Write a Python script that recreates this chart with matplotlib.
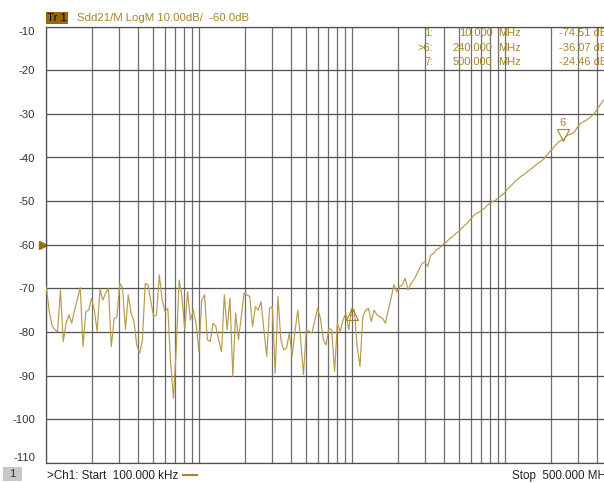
import numpy as np
import matplotlib
matplotlib.use("Agg")
import matplotlib.pyplot as plt
from matplotlib.patches import Rectangle
from matplotlib.lines import Line2D
from matplotlib.ticker import LogLocator, NullFormatter
from matplotlib.transforms import offset_copy

plt.rcParams['font.family'] = ['Liberation Sans', 'DejaVu Sans']

# trace (dB), 201-point log sweep 100 kHz .. 500 MHz
level_db = [
    -69.8, -75.0, -78.5, -79.5, -79.9, -70.4, -82.2, -78.0, -76.1, -78.0,
    -75.0, -72.5, -69.8, -83.4, -75.3, -75.0, -72.3, -75.0, -79.9, -70.2,
    -72.7, -71.1, -70.0, -83.4, -77.0, -76.5, -68.9, -70.0, -79.5, -71.5,
    -75.7, -77.5, -83.0, -84.9, -82.0, -68.9, -69.2, -73.0, -76.5, -76.1,
    -66.9, -72.7, -75.3, -74.6, -87.2, -95.2, -83.7, -68.1, -71.9, -79.5,
    -70.8, -77.3, -75.0, -78.0, -84.5, -72.7, -71.5, -81.8, -82.2, -78.0,
    -78.8, -81.8, -84.5, -71.5, -79.5, -72.3, -90.2, -75.7, -81.8, -76.5,
    -71.1, -71.5, -71.9, -78.8, -74.2, -75.0, -73.1, -79.5, -85.6, -74.6,
    -74.2, -89.5, -71.9, -81.8, -84.1, -83.7, -80.3, -85.6, -79.9, -75.0,
    -81.8, -89.8, -79.5, -79.9, -80.3, -77.3, -74.6, -76.9, -81.8, -83.0,
    -79.2, -79.5, -89.1, -78.0, -79.9, -77.3, -75.7, -79.5, -74.6, -75.0,
    -83.4, -87.9, -76.5, -75.0, -74.6, -77.6, -75.0, -76.1, -76.5, -76.9,
    -78.0, -75.0, -72.3, -69.2, -70.8, -69.6, -69.2, -67.7, -70.4, -68.9,
    -68.1, -66.9, -65.5, -64.3, -63.9, -65.0, -62.4, -62.0, -61.2, -60.8,
    -60.2, -59.7, -59.1, -58.5, -58.0, -57.4, -56.9, -56.2, -55.6, -55.0,
    -54.3, -53.5, -52.9, -52.6, -52.1, -51.7, -51.0, -50.5, -50.1, -49.8,
    -49.2, -48.7, -48.2, -47.4, -46.7, -46.1, -45.4, -44.9, -44.3, -43.9,
    -43.4, -42.9, -42.4, -41.8, -41.3, -40.9, -40.4, -39.6, -38.8, -38.1,
    -37.3, -36.6, -36.1, -35.9, -35.1, -34.7, -34.5, -34.1, -33.0, -32.2,
    -31.8, -31.5, -31.0, -30.5, -29.8, -28.9, -27.9, -27.0, -26.2, -25.3,
    -24.5,
]
start_mhz = 0.1
stop_mhz = 500.0
freq_mhz = np.geomspace(start_mhz, stop_mhz, len(level_db))

marker_ids = [1, 6, 7]
marker_freq = [10.0, 240.0, 500.0]
marker_db = [-74.51, -36.07, -24.46]

y_ticks = list(range(-10, -111, -10))
ref_level = -60.0

W, H = 604, 483
gold = '#a8842a'
trace_col = '#b89a4c'
grid_col = '#6e6e6e'


def fx(x):
    return x / W


def fy(y):
    return 1 - y / H


fig = plt.figure(figsize=(W / 100, H / 100), dpi=100)
fig.patch.set_facecolor('white')
# plot area: left edge at 46 px, right edge (500 MHz) falls just past the crop
ax = fig.add_axes([fx(46.3), fy(462.7), fx(611.5) - fx(46.3), fy(26.7) - fy(462.7)])
ax.set_xscale('log')
ax.set_xlim(start_mhz, stop_mhz)
ax.set_ylim(-110, -10)

ax.xaxis.set_major_locator(LogLocator(base=10, numticks=10))
ax.xaxis.set_minor_locator(LogLocator(base=10, subs=np.arange(2, 10), numticks=50))
ax.xaxis.set_major_formatter(NullFormatter())
ax.xaxis.set_minor_formatter(NullFormatter())
ax.set_yticks(y_ticks)
ax.set_yticklabels([str(v) for v in y_ticks])
ax.tick_params(axis='both', which='both', length=0)
ax.tick_params(axis='y', pad=8, labelsize=8.2, labelcolor='#333333')
for lab in ax.get_yticklabels():
    if lab.get_text() == '-10':
        lab.set_va('top')
    elif lab.get_text() == '-110':
        lab.set_va('bottom')

ax.grid(True, which='major', axis='y', color='#505050', lw=0.9)
ax.grid(True, which='both', axis='x', color=grid_col, lw=0.9)
for s in ax.spines.values():
    s.set_color('#505050')
    s.set_linewidth(0.9)

ax.plot(freq_mhz, level_db, color=trace_col, lw=0.85, zorder=3)

# marker 6 (active): hollow triangle above the trace with its number
tr_up = offset_copy(ax.transData, fig=fig, x=0, y=4.2, units='points')
ax.plot(marker_freq[1], marker_db[1], marker='v', ms=8.5, mfc='none', mec=gold,
        mew=0.8, transform=tr_up, clip_on=False, zorder=4)
tr_lbl = offset_copy(ax.transData, fig=fig, x=0, y=12.5, units='points')
ax.text(marker_freq[1], marker_db[1], str(marker_ids[1]), color=gold, fontsize=8,
        ha='center', va='center', transform=tr_lbl)

# marker 1: small triangle under the trace
tr_dn = offset_copy(ax.transData, fig=fig, x=0, y=-4.2, units='points')
ax.plot(marker_freq[0], marker_db[0], marker='^', ms=8.5, mfc='none', mec=gold,
        mew=0.8, transform=tr_dn, zorder=4)
tr_dn2 = offset_copy(ax.transData, fig=fig, x=0, y=-4.5, units='points')
ax.text(marker_freq[0], marker_db[0], str(marker_ids[0]), color='#8a5a2a', fontsize=5.5,
        ha='center', va='center', transform=tr_dn2)

# reference level arrow on the left edge
ref_tr = offset_copy(ax.get_yaxis_transform(), fig=fig, x=-2.2, y=0, units='points')
ax.plot(0, ref_level, marker='>', ms=5.5, color='#9a6e00', transform=ref_tr, clip_on=False)

# header line
fig.add_artist(Rectangle((fx(45.7), fy(24)), fx(68.3) - fx(45.7), fy(11.7) - fy(24),
                         transform=fig.transFigure, facecolor='#9a6a00', edgecolor='none'))
fig.text(fx(57), fy(18), 'Tr 1', color='black', fontsize=8.2, ha='center', va='center')
fig.text(fx(76.7), fy(18), 'Sdd21/M LogM 10.00dB/  -60.0dB', color=gold, fontsize=8.2,
         ha='left', va='center')

# marker table
rows_y = [33.3, 48.3, 62.3]
for k in range(len(marker_ids)):
    yy = fy(rows_y[k])
    prefix = '>' if marker_ids[k] == 6 else ''
    fig.text(fx(433.5), yy, prefix + str(marker_ids[k]) + ':', color=gold, fontsize=8,
             ha='right', va='center')
    fig.text(fx(492.5), yy, '%.3f' % marker_freq[k], color=gold, fontsize=8,
             ha='right', va='center')
    fig.text(fx(498.5), yy, 'MHz', color=gold, fontsize=8, ha='left', va='center')
    fig.text(fx(559), yy, '%.2f dB' % marker_db[k], color=gold, fontsize=8,
             ha='left', va='center')

# footer
fig.add_artist(Rectangle((fx(3), fy(481)), fx(22) - fx(3), fy(467) - fy(481),
                         transform=fig.transFigure, facecolor='#c8c8c8', edgecolor='none'))
fig.text(fx(12.5), fy(474), '1', color='#333333', fontsize=8.2, ha='center', va='center')
fig.text(fx(46.7), fy(476), '>Ch1: Start  %.3f kHz' % (start_mhz * 1000), color='#222222',
         fontsize=8.4, ha='left', va='center')
fig.add_artist(Line2D([fx(183), fx(197)], [fy(474.5), fy(474.5)], transform=fig.transFigure,
                      color=gold, lw=1.5))
fig.text(fx(512), fy(476), 'Stop  %.3f MHz' % stop_mhz, color='#222222', fontsize=8.4,
         ha='left', va='center')

fig.savefig('out.png', dpi=100)
